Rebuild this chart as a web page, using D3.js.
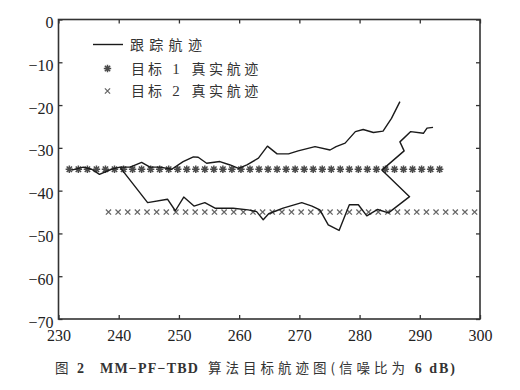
<!DOCTYPE html>
<html><head><meta charset="utf-8">
<script src="https://cdn.jsdelivr.net/npm/d3@7"></script>
<style>
html,body{margin:0;padding:0;background:#fff;}
svg{display:block;}
.serif{font-family:"Liberation Serif","DejaVu Serif",serif;}
.cjk{font-family:"Noto Sans CJK SC","Noto Sans CJK JP",sans-serif;}
</style>
</head><body>
<svg id="chart" width="520" height="390"></svg>
<script>
// ---- data ----
const xTicks = [230, 240, 250, 260, 270, 280, 290, 300];
const yTicks = [0, -10, -20, -30, -40, -50, -60, -70];

const trackX1 = [232.2,234.1,235.5,236.8,238.8,240.2,241.9,243.8,245.2,246.9,248.8,250.7,252.4,253.2,254.6,256.8,258.5,259.9,261.3,263.2,264.7,266.3,268.2,269.8,272.6,275.1,276.1,277.6,279.3,280.6,282.3,283.9,285.3,286.7];
const trackY1 = [-35.2,-34.5,-35.0,-36.2,-35.0,-34.5,-34.5,-33.4,-34.5,-34.5,-35.0,-33.2,-32.1,-32.2,-33.6,-33.2,-34.0,-34.8,-34.0,-32.4,-29.6,-31.4,-31.4,-30.7,-29.7,-30.5,-29.7,-28.9,-26.2,-25.7,-26.4,-26.1,-23.1,-19.2];

const trackX2 = [240.2,244.8,248.1,249.4,250.8,252.5,254.3,256.0,259.0,261.5,262.9,264.0,264.9,266.2,267.3,270.4,272.1,273.4,274.8,276.6,278.3,279.8,281.2,283.0,284.8,288.3,283.7,287.4,286.7,288.5,290.6,291.2,292.2];
const trackY2 = [-34.5,-42.8,-42.0,-44.7,-41.5,-43.6,-42.8,-44.1,-44.1,-44.5,-44.9,-46.8,-45.4,-44.7,-44.1,-42.8,-43.6,-44.5,-48.0,-49.3,-43.3,-43.3,-45.9,-44.4,-45.2,-41.4,-35.2,-30.7,-28.6,-26.2,-26.6,-25.4,-25.2];

const target1X = [231.8,233.3,234.8,236.3,237.8,239.3,240.8,242.3,243.8,245.3,246.8,248.3,249.8,251.3,252.8,254.3,255.8,257.3,258.8,260.3,261.8,263.3,264.8,266.3,267.8,269.3,270.8,272.3,273.8,275.3,276.8,278.3,279.8,281.3,282.8,284.3,285.8,287.3,288.8,290.3,291.8,293.3];
const target1Y = -35;
const target2X = [238.3,239.9,241.5,243.1,244.7,246.3,247.9,249.5,251.1,252.7,254.3,255.9,257.5,259.1,260.7,262.3,263.9,265.5,267.1,268.7,270.3,271.9,273.5,275.1,276.7,278.3,279.9,281.5,283.1,284.7,286.3,287.9,289.5,291.1,292.7,294.3,295.9,297.5,299.1];
const target2Y = -45;

const legendLabel1 = "跟踪航迹";
const legendLabel2 = ["目标", "1", "真实航迹"];
const legendLabel3 = ["目标", "2", "真实航迹"];
const captionParts = ["图", "2", "MM\u2212PF\u2212TBD", "算法目标航迹图(信噪比为", "6 dB)"];

// ---- drawing ----
const svg = d3.select("#chart");
const L = 58.5, R = 480, T = 19.5, B = 319;
const x = d3.scaleLinear().domain([230, 300]).range([L, R]);
const y = d3.scaleLinear().domain([-70, 0]).range([B, T]);
const frameColor = "#333";

const fmt = d => d < 0 ? "\u2212" + Math.abs(d) : String(d);
const gB = svg.append("g").attr("transform", `translate(0,${B})`)
  .call(d3.axisBottom(x).tickValues(xTicks).tickSizeInner(-4).tickSizeOuter(0).tickFormat(d => d).tickPadding(10));
const gT = svg.append("g").attr("transform", `translate(0,${T})`)
  .call(d3.axisTop(x).tickValues(xTicks).tickSizeInner(-4).tickSizeOuter(0).tickFormat(""));
const gL = svg.append("g").attr("transform", `translate(${L},0)`)
  .call(d3.axisLeft(y).tickValues(yTicks).tickSizeInner(-4).tickSizeOuter(0).tickFormat(fmt).tickPadding(5));
const gR = svg.append("g").attr("transform", `translate(${R},0)`)
  .call(d3.axisRight(y).tickValues(yTicks).tickSizeInner(-4).tickSizeOuter(0).tickFormat(""));
[gB, gT, gL, gR].forEach(g => {
  g.attr("font-family", null).attr("font-size", null);
  g.select(".domain").remove();
  g.selectAll(".tick line").attr("stroke", frameColor).attr("stroke-width", 1.3);
  g.selectAll("text").attr("class", "serif").style("font-size", "16px").attr("fill", "#222");
});
gL.selectAll("text").attr("dy", "0.5em");
gB.selectAll("text").attr("dy", "0.75em");

svg.append("rect").attr("x", L).attr("y", T).attr("width", R - L).attr("height", B - T)
  .attr("fill", "none").attr("stroke", frameColor).attr("stroke-width", 1.6);

// target markers
const starPath = s => `M${-s},0L${s},0M0,${-s}L0,${s}M${-s*0.72},${-s*0.72}L${s*0.72},${s*0.72}M${-s*0.72},${s*0.72}L${s*0.72},${-s*0.72}`;
const crossPath = s => `M${-s},${-s}L${s},${s}M${-s},${s}L${s},${-s}`;

svg.append("g").selectAll("path").data(target1X).join("path")
  .attr("transform", d => `translate(${x(d)},${y(target1Y)})`)
  .attr("d", starPath(3.7)).attr("stroke", "#4a4a4a").attr("stroke-width", 1.5).attr("fill", "none");
svg.append("g").selectAll("path").data(target2X).join("path")
  .attr("transform", d => `translate(${x(d)},${y(target2Y)})`)
  .attr("d", crossPath(2.6)).attr("stroke", "#666").attr("stroke-width", 1.3).attr("fill", "none");

// tracks
const line = d3.line().x(d => x(d[0])).y(d => y(d[1]));
[[trackX1, trackY1], [trackX2, trackY2]].forEach(([xs, ys]) => {
  svg.append("path").datum(xs.map((v, i) => [v, ys[i]]))
    .attr("d", line).attr("fill", "none").attr("stroke", "#1a1a1a")
    .attr("stroke-width", 1.4).attr("stroke-linejoin", "round");
});

// legend
const lg = svg.append("g");
const rowsY = [44.5, 68.5, 91];
lg.append("line").attr("x1", 93).attr("x2", 123).attr("y1", rowsY[0]).attr("y2", rowsY[0])
  .attr("stroke", "#1a1a1a").attr("stroke-width", 1.4);
lg.append("path").attr("transform", `translate(107.5,${rowsY[1]})`).attr("d", starPath(3.7))
  .attr("stroke", "#4a4a4a").attr("stroke-width", 1.5);
lg.append("path").attr("transform", `translate(107.5,${rowsY[2]})`).attr("d", crossPath(2.6))
  .attr("stroke", "#666").attr("stroke-width", 1.3);
lg.append("text").attr("class", "cjk").attr("x", 130).attr("y", rowsY[0]).attr("dy", "0.38em")
  .style("font-size", "14px").style("letter-spacing", "5.3px").attr("fill", "#333").text(legendLabel1);
[legendLabel2, legendLabel3].forEach((parts, i) => {
  const yy = rowsY[i + 1];
  lg.append("text").attr("class", "cjk").attr("x", 131).attr("y", yy).attr("dy", "0.38em")
    .style("font-size", "14px").style("letter-spacing", "3px").attr("fill", "#333").text(parts[0]);
  lg.append("text").attr("class", "serif").attr("x", 176).attr("y", yy).attr("dy", "0.34em")
    .attr("text-anchor", "middle").style("font-size", "15px").attr("fill", "#333").text(parts[1]);
  lg.append("text").attr("class", "cjk").attr("x", 191.5).attr("y", yy).attr("dy", "0.38em")
    .style("font-size", "14px").style("letter-spacing", "3.6px").attr("fill", "#333").text(parts[2]);
});

// caption
const cy = 368;
svg.append("text").attr("class", "cjk").attr("x", 55).attr("y", cy).attr("dy", "0.38em")
  .style("font-size", "13.5px").attr("fill", "#333").text(captionParts[0]);
svg.append("text").attr("class", "serif").attr("x", 77).attr("y", cy).attr("dy", "0.34em")
  .style("font-size", "14px").style("font-weight", "bold").attr("fill", "#333").text(captionParts[1]);
svg.append("text").attr("class", "serif").attr("x", 100).attr("y", cy).attr("dy", "0.34em")
  .style("font-size", "14px").style("font-weight", "bold").style("letter-spacing", "1.2px")
  .attr("fill", "#333").text(captionParts[2]);
svg.append("text").attr("class", "cjk").attr("x", 208).attr("y", cy).attr("dy", "0.38em")
  .style("font-size", "13.5px").style("letter-spacing", "4px").attr("fill", "#333").text(captionParts[3]);
svg.append("text").attr("class", "serif").attr("x", 457).attr("y", cy).attr("dy", "0.34em")
  .attr("text-anchor", "end").style("font-size", "14px").style("font-weight", "bold")
  .style("letter-spacing", "2px").attr("fill", "#333").text(captionParts[4]);
</script>
</body></html>
